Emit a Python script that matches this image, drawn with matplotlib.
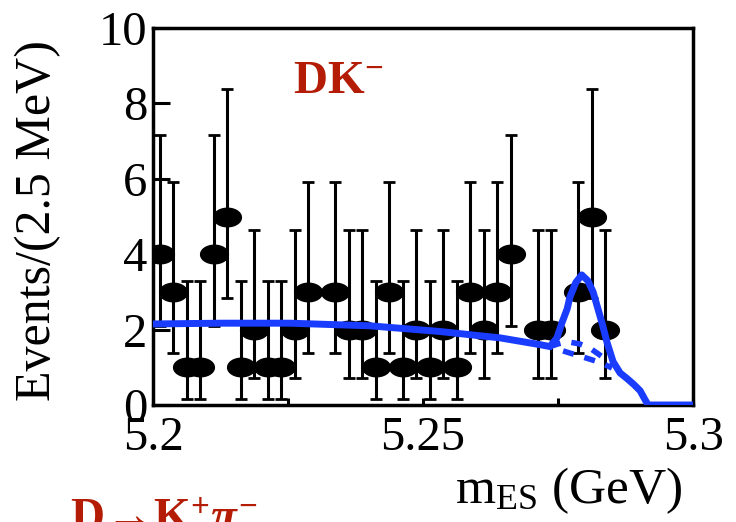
import numpy as np
import matplotlib
matplotlib.use("Agg")
import matplotlib.pyplot as plt
from matplotlib.path import Path

# events per 2.5 MeV bin, 5.20 -> 5.30 GeV (40 bins)
counts = [4, 3, 1, 1, 4, 5, 1, 2, 1, 1,
          2, 3, 0, 3, 2, 2, 1, 3, 1, 2,
          1, 2, 1, 3, 2, 3, 4, 0, 2, 2,
          0, 3, 5, 2, 0, 0, 0, 0, 0, 0]
# poisson 68% interval edges, indexed by count
poissonLow = [0.0, 0.17, 0.71, 1.37, 2.09, 2.84]
poissonHigh = [1.15, 3.30, 4.64, 5.92, 7.16, 8.38]

# total fit (signal + background)
fitX = [5.2000, 5.2127, 5.2254, 5.2402, 5.2531, 5.2643, 5.2717, 5.2735,
        5.2748, 5.2757, 5.2767, 5.2772, 5.2783, 5.2794, 5.2805, 5.2815,
        5.2822, 5.2832, 5.2841, 5.2852, 5.2865, 5.2878, 5.2890, 5.2902,
        5.2912, 5.2917, 5.3000]
fitY = [2.15, 2.17, 2.17, 2.10, 1.95, 1.78, 1.60, 1.55,
        1.78, 2.17, 2.55, 2.86, 3.25, 3.45, 3.30, 3.00,
        2.65, 2.15, 1.65, 1.15, 0.85, 0.70, 0.55, 0.38,
        0.12, 0.0, 0.0]
# background components under the peak
bkgX = [5.2735, 5.2750, 5.2767, 5.2790, 5.2808, 5.2830, 5.2850]
bkgUpper = [1.55, 1.62, 1.68, 1.62, 1.52, 1.30, 1.10]
bkgLower = [1.55, 1.48, 1.40, 1.30, 1.22, 1.12, 0.98]

xTicks = [5.2, 5.25, 5.3]
xMinor = [5.225, 5.275]
yTicks = [0, 2, 4, 6, 8, 10]

plt.rcParams['font.family'] = ['Liberation Serif', 'DejaVu Serif']
plt.rcParams['mathtext.fontset'] = 'custom'
plt.rcParams['mathtext.rm'] = 'Liberation Serif'
plt.rcParams['mathtext.bf'] = 'Liberation Serif:bold'
plt.rcParams['mathtext.it'] = 'Liberation Serif:bold:italic'

blue = '#1a3cff'
red = '#b41c05'

fig = plt.figure(figsize=(7.36, 5.22), dpi=100)
ax = fig.add_axes([153/736, 1-405/522, 540/736, 377/522])

edges = np.linspace(5.2, 5.3, len(counts)+1)
centers = (edges[:-1] + edges[1:]) / 2
counts = np.array(counts)
keep = counts > 0
x = centers[keep]
y = counts[keep]
lo = y - np.array([poissonLow[n] for n in y])
hi = np.array([poissonHigh[n] for n in y]) - y

# wide ellipse marker
t = np.linspace(0, 2*np.pi, 60)
ellipse = Path(np.column_stack([1.5*np.cos(t), np.sin(t)]), closed=True)

ax.errorbar(x, y, yerr=[lo, hi], fmt='none', ecolor='black',
            elinewidth=2.2, capsize=4.5, capthick=2.0, zorder=2)
ax.plot(x, y, linestyle='none', marker=ellipse, markersize=20,
        color='black', zorder=3)

ax.plot(bkgX, bkgUpper, color=blue, lw=4, ls=(0, (2, 2)), zorder=4)
ax.plot(bkgX, bkgLower, color=blue, lw=4, ls=(1.5, (2, 2)), zorder=4)
ax.plot(fitX, fitY, color=blue, lw=5, solid_joinstyle='round',
        solid_capstyle='butt', zorder=5)

ax.set_xlim(5.2, 5.3)
ax.set_ylim(0, 10)
ax.set_xticks(xTicks)
ax.set_xticklabels(['5.2', '5.25', '5.3'])
ax.set_xticks(xMinor, minor=True)
ax.set_yticks(yTicks)
ax.tick_params(axis='y', which='major', direction='in', length=12, width=2.2,
               labelsize=35, pad=4, right=False)
ax.tick_params(axis='x', which='both', direction='in', length=5, width=2.2,
               labelsize=35, pad=8, top=False)
for s in ax.spines.values():
    s.set_linewidth(2.5)

ax.set_ylabel('Events/(2.5 MeV)', fontsize=36)
ax.yaxis.set_label_coords(-0.17, 0.49)
ax.set_xlabel(r'm$_{\rm ES}$ (GeV)', fontsize=37, ha='right')
ax.xaxis.set_label_coords(0.981, -0.16)

ax.text(0.259, 0.828, r'$\mathbf{DK^{-}}$', transform=ax.transAxes, color=red,
        fontsize=34, va='baseline', ha='left')
fig.text(70/736, -0.017, r'$\mathbf{D\!\rightarrow\! K^{+}}\pi^{\mathbf{-}}$',
         color=red, fontsize=34, va='baseline', ha='left')

fig.savefig('out.png', dpi=100)
